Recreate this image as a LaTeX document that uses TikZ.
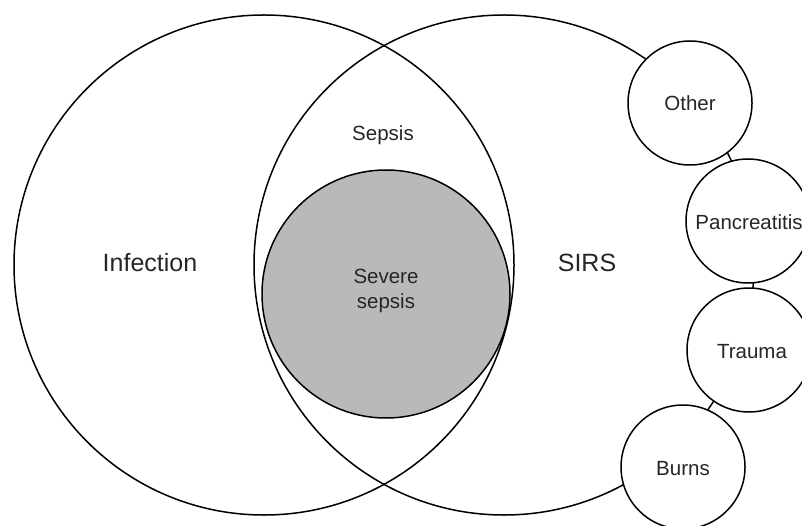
\documentclass[tikz,border=0pt]{standalone}
\usepackage{fontspec}
\setmainfont{Liberation Sans}

\begin{document}
\begin{tikzpicture}[x=1pt,y=-1pt,
	ring/.style={circle,draw,line width=1.5pt,inner sep=0pt},
	bigring/.style={ring,minimum size=500pt},
	smallring/.style={ring,fill=white,minimum size=124pt},
	biglabel/.style={text=black!85,font=\fontsize{25}{30}\selectfont},
	smalllabel/.style={text=black!85,font=\fontsize{20.5}{25}\selectfont,align=center}]
		\useasboundingbox (0,0) rectangle (802,526);
		\node[bigring] (infection) at (264,265) {};
		\node[bigring] (sirs) at (504,265) {};
		\node[ring,fill=gray!55,minimum size=248pt] (severe) at (386,294) {};
		\node[smallring] (other) at (690,103) {};
		\node[smallring] (pancreatitis) at (748,221) {};
		\node[smallring] (trauma) at (749,350) {};
		\node[smallring] (burns) at (683,467) {};
		\node[biglabel] (infectiontext) at (150,263) {Infection};
		\node[biglabel] (sirstext) at (587,263) {SIRS};
		\node[smalllabel] (sepsistext) at (383,135) {Sepsis};
		\node[smalllabel] (severetext) at (386,291) {Severe\\sepsis};
		\node[smalllabel] (othertext) at (other) {Other};
		\node[smalllabel] (pancreatitistext) at (749,222) {Pancreatitis};
		\node[smalllabel] (traumatext) at (752,352) {Trauma};
		\node[smalllabel] (burnstext) at (683,469) {Burns};
		\end{tikzpicture}
\end{document}
